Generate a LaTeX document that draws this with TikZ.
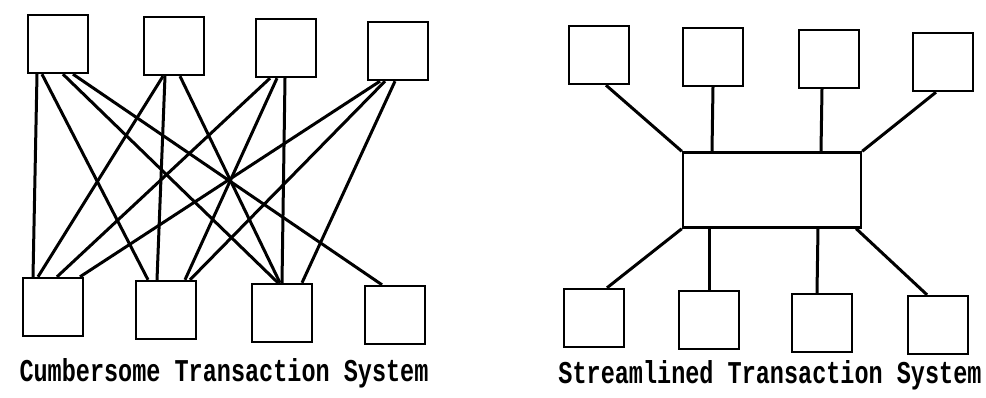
\documentclass[tikz,border=0pt]{standalone}
\usepackage{fontspec}
\setmonofont{Liberation Mono}
\tikzset{
  sbox/.style={draw, line width=2.4pt, minimum width=60pt, minimum height=58pt, inner sep=0pt},
  hub/.style={draw, line width=2.4pt, minimum width=178pt, minimum height=75pt, inner sep=0pt},
  link/.style={line width=3pt},
  caption/.style={font=\ttfamily\bfseries\fontsize{23.5}{28}\selectfont, inner sep=0pt}
}
\begin{document}
\begin{tikzpicture}[x=1pt,y=-1pt]
\useasboundingbox (0,0) rectangle (986,397);
% Left: cumbersome
\node[sbox] (T1) at (58,44) {};
\node[sbox] (T2) at (174,46) {};
\node[sbox] (T3) at (286,48) {};
\node[sbox] (T4) at (398,51) {};
\node[sbox] (B1) at (53,307) {};
\node[sbox] (B2) at (166,310) {};
\node[sbox] (B3) at (282,313) {};
\node[sbox] (B4) at (395,315) {};
\draw[link] ([xshift=-21pt]T1.south) -- ([xshift=-20pt]B1.north);
\draw[link] ([xshift=-16pt]T1.south) -- ([xshift=-18pt]B2.north);
\draw[link] ([xshift=5pt]T1.south) -- ([xshift=-4pt]B3.north);
\draw[link] ([xshift=15pt]T1.south) -- ([xshift=-13pt]B4.north);
\draw[link] ([xshift=-11pt]T2.south) -- ([xshift=-15pt]B1.north);
\draw[link] ([xshift=-9pt]T2.south) -- ([xshift=-9pt]B2.north);
\draw[link] ([xshift=6pt]T2.south) -- ([xshift=-2pt]B3.north);
\draw[link] ([xshift=-16pt]T3.south) -- ([xshift=4pt]B1.north);
\draw[link] ([xshift=-9pt]T3.south) -- ([xshift=19pt]B2.north);
\draw[link] ([xshift=-1pt]T3.south) -- ([xshift=0pt]B3.north);
\draw[link] ([xshift=-18pt]T4.south) -- ([xshift=27pt]B1.north);
\draw[link] ([xshift=-13pt]T4.south) -- ([xshift=24pt]B2.north);
\draw[link] ([xshift=-3pt]T4.south) -- ([xshift=20pt]B3.north);
\node[caption] (capL) at (224,373) {\scalebox{1}[1.35]{Cumbersome Transaction System}};
% Right: streamlined
\node[sbox] (R1) at (599,55) {};
\node[sbox] (R2) at (713,57) {};
\node[sbox] (R3) at (829,59) {};
\node[sbox] (R4) at (943,62) {};
\node[hub] (C) at (772,190) {};
\node[sbox] (S1) at (594,318) {};
\node[sbox] (S2) at (709,320) {};
\node[sbox] (S3) at (822,323) {};
\node[sbox] (S4) at (938,325) {};
\draw[link] ([xshift=7pt]R1.south) -- (C.north west);
\draw[link] (R2.south) -- ([xshift=-60pt]C.north);
\draw[link] ([xshift=-7pt]R3.south) -- ([xshift=49pt]C.north);
\draw[link] ([xshift=-7pt]R4.south) -- (C.north east);
\draw[link] (C.south west) -- ([xshift=13pt]S1.north);
\draw[link] ([xshift=-63pt]C.south) -- (S2.north);
\draw[link] ([xshift=46pt]C.south) -- ([xshift=-5pt]S3.north);
\draw[link] ([xshift=-6pt]C.south east) -- ([xshift=-11pt]S4.north);
\node[caption] (capR) at (770,375) {\scalebox{1}[1.35]{Streamlined Transaction System}};
\end{tikzpicture}
\end{document}
